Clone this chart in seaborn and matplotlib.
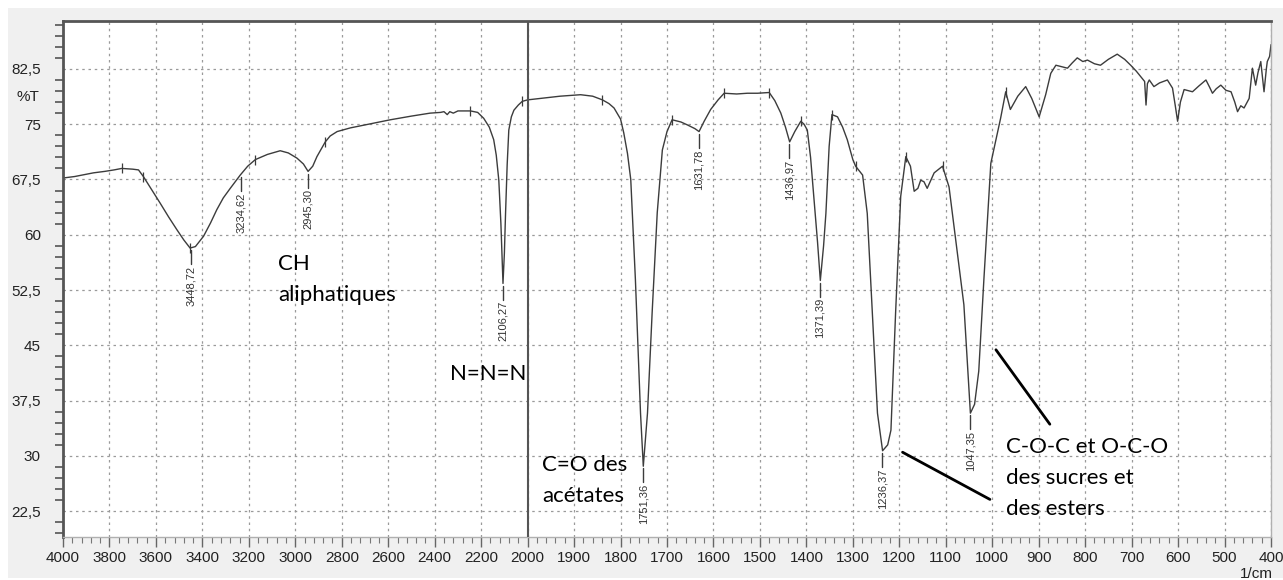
import numpy as np
import pandas as pd
import seaborn as sns
import matplotlib.pyplot as plt
from matplotlib.ticker import FixedLocator, FuncFormatter
from matplotlib.patches import Rectangle

# spectre IR (nombre d'onde en 1/cm, transmittance en %T)
wavenumber = [4000, 3950, 3900, 3869, 3820, 3780, 3747, 3700, 3675, 3654, 3620, 3582, 3545, 3510,
              3480, 3453, 3430, 3395, 3365, 3338, 3310, 3280, 3237, 3205, 3172, 3120, 3065, 3030,
              2993, 2965, 2945, 2925, 2907, 2871, 2850, 2820, 2763, 2700, 2591, 2500, 2420, 2375,
              2360, 2346, 2335, 2320, 2300, 2246, 2215, 2189, 2165, 2146, 2135, 2124, 2115, 2106,
              2100, 2095, 2088, 2081, 2070, 2059, 2040, 2023, 2000, 1972, 1930, 1886, 1860, 1839,
              1825, 1814, 1800, 1793, 1785, 1778, 1768, 1757, 1751, 1742, 1732, 1721, 1710, 1700,
              1689, 1670, 1656, 1640, 1631, 1620, 1606, 1590, 1577, 1550, 1527, 1505, 1480, 1468,
              1455, 1445, 1436, 1425, 1412, 1405, 1398, 1391, 1384, 1376, 1370, 1363, 1358, 1351,
              1345, 1333, 1322, 1312, 1300, 1294, 1279, 1269, 1258, 1247, 1236, 1225, 1218, 1208,
              1197, 1186, 1176, 1168, 1160, 1154, 1147, 1140, 1125, 1107, 1093, 1075, 1061, 1047,
              1038, 1029, 1018, 1003, 989, 982, 971, 961, 945, 928, 915, 899, 885, 874, 863, 850,
              838, 828, 817, 805, 795, 780, 767, 750, 731, 715, 702, 690, 677, 672, 669, 666, 662,
              652, 640, 623, 612, 606, 601, 595, 587, 569, 555, 540, 532, 526, 518, 508, 497, 486,
              478, 472, 465, 458, 447, 440, 433, 428, 422, 415, 410, 408, 403, 400]
transmittance = [67.7, 67.9, 68.2, 68.4, 68.6, 68.8, 69.0, 68.9, 68.8, 67.9, 66.2, 64.3, 62.4, 60.7,
                 59.3, 58.2, 58.4, 59.8, 61.6, 63.4, 65.0, 66.3, 68.1, 69.3, 70.2, 70.9, 71.4, 71.1,
                 70.4, 69.6, 68.6, 69.3, 70.6, 72.6, 73.4, 74.0, 74.5, 74.9, 75.6, 76.1, 76.5, 76.6,
                 76.7, 76.3, 76.7, 76.5, 76.8, 76.8, 76.6, 75.8, 74.6, 72.9, 70.8, 67.4, 61.5, 53.4,
                 57.5, 62.9, 69.5, 74.2, 76.0, 76.9, 77.6, 78.1, 78.3, 78.5, 78.8, 79.0, 78.8, 78.3,
                 77.8, 77.2, 75.7, 73.8, 71.0, 67.5, 53.9, 35.8, 28.6, 35.8, 49.4, 63.0, 71.5, 74.0,
                 75.6, 75.3, 74.9, 74.4, 74.0, 75.4, 77.0, 78.3, 79.2, 79.1, 79.2, 79.2, 79.3, 78.2,
                 76.5, 74.6, 72.6, 74.0, 75.4, 75.0, 74.2, 70.5, 65.2, 59.0, 53.8, 58.5, 62.9, 72.0,
                 76.3, 76.0, 74.6, 72.9, 70.2, 69.3, 68.1, 62.9, 49.4, 35.8, 30.7, 31.5, 33.5, 49.4,
                 65.2, 70.6, 69.3, 65.9, 66.3, 67.4, 67.2, 66.3, 68.4, 69.3, 66.5, 57.5, 50.5, 35.8,
                 37.0, 41.5, 53.9, 69.7, 73.8, 75.8, 79.4, 77.0, 78.8, 80.1, 78.5, 76.0, 79.0, 81.9,
                 83.0, 82.8, 82.6, 83.3, 84.0, 83.5, 83.7, 83.2, 83.0, 83.8, 84.5, 83.8, 83.0, 82.2,
                 81.2, 80.8, 77.6, 80.5, 81.0, 80.1, 80.6, 81.0, 79.9, 77.5, 75.4, 78.0, 79.7, 79.4,
                 80.2, 81.0, 80.0, 79.2, 79.8, 80.3, 79.6, 79.4, 78.0, 76.7, 77.5, 77.2, 78.5, 82.6,
                 80.3, 82.0, 83.5, 79.4, 82.5, 83.5, 84.2, 85.8]

# pics annotés
peak_wn = [3448.72, 3234.62, 2945.30, 2106.27, 1751.36, 1631.78, 1436.97, 1371.39, 1236.37, 1047.35]
peak_T = [58.2, 68.1, 68.6, 53.4, 28.6, 74.0, 72.6, 53.8, 30.7, 35.8]

# petits repères sur la courbe
pick_wn = [3747, 3654, 3453, 3172, 2871, 2246, 2023, 1839, 1689, 1577, 1480, 1412, 1345, 1294, 1186, 1107, 971]

x_major = list(range(4000, 1999, -200)) + list(range(1900, 399, -100))
x_minor = list(range(4000, 1999, -40)) + list(range(2000, 399, -20))
y_major = [22.5, 30, 37.5, 45, 52.5, 60, 67.5, 75, 82.5]
y_minor = list(np.arange(19.5, 89.0, 1.5))

# textes d'attribution
labels_txt = ["CH\naliphatiques", "N=N=N", "C=O des\nacétates", "C-O-C et O-C-O\ndes sucres et\ndes esters"]
labels_wn = [3073, 2332, 1968, 971]
labels_T = [57.4, 42.5, 30.1, 32.6]
callout_lines = [([992, 876], [44.4, 34.3]), ([1193, 1005], [30.5, 24.1])]

df = pd.DataFrame({"wn": wavenumber, "T": transmittance})


def fwd(x):
    x = np.asarray(x, dtype=float)
    return np.where(x > 2000, 2000 + (x - 2000) / 2, x)


def inv(t):
    t = np.asarray(t, dtype=float)
    return np.where(t > 2000, 2000 + (t - 2000) * 2, t)


def virgule(v, pos):
    return f"{v:g}".replace(".", ",")


sns.set_theme(style="white")
plt.rcParams["font.family"] = ["Liberation Sans", "DejaVu Sans"]

fig = plt.figure(figsize=(12.83, 5.8), dpi=100, facecolor="white")
fig.patches.append(Rectangle((8 / 1283, 2 / 580), 1, 570 / 580, transform=fig.transFigure,
                             facecolor="#f0f0f0", edgecolor="none", zorder=-5))
ax = fig.add_axes([63 / 1283, 43 / 580, 1208 / 1283, 516 / 580])
ax.set_facecolor("white")

sns.lineplot(data=df, x="wn", y="T", sort=False, estimator=None, color="#3c3c3c", lw=1.0, ax=ax)

ax.set_xscale("function", functions=(fwd, inv))
ax.set_xlim(4000, 400)
ax.set_ylim(19.0, 89.0)

ax.xaxis.set_major_locator(FixedLocator(x_major))
ax.xaxis.set_minor_locator(FixedLocator(x_minor))
ax.xaxis.set_major_formatter(FuncFormatter(virgule))
ax.yaxis.set_major_locator(FixedLocator(y_major))
ax.yaxis.set_minor_locator(FixedLocator(y_minor))
ax.yaxis.set_major_formatter(FuncFormatter(virgule))

ax.grid(True, which="major", color="#9a9a9a", linestyle=(0, (2, 3)), lw=0.9)
ax.axvline(2000, color="#555555", lw=1.5, zorder=3)

ax.tick_params(axis="y", which="major", direction="out", length=13, width=1.5, color="#555555",
               labelsize=11, pad=3, labelcolor="#222222")
ax.tick_params(axis="y", which="minor", direction="out", length=6, width=1.2, color="#555555", left=True)
ax.tick_params(axis="x", which="major", direction="out", length=7, width=1.0, color="#666666",
               labelsize=11, pad=3, labelcolor="#222222", bottom=True)
ax.tick_params(axis="x", which="minor", direction="out", length=4, width=0.8, color="#777777", bottom=True)

for side in ["top", "left"]:
    ax.spines[side].set_color("#555555")
    ax.spines[side].set_linewidth(2)
for side in ["bottom", "right"]:
    ax.spines[side].set_color("#b0b0b0")
    ax.spines[side].set_linewidth(1)
ax.set_xlabel("")
ax.set_ylabel("")

# repères de pics
pick_T = np.interp(pick_wn, wavenumber[::-1], transmittance[::-1])
ax.scatter(pick_wn, pick_T, marker="|", s=60, color="#3c3c3c", linewidths=0.9, zorder=4)

for wn, t in zip(peak_wn, peak_T):
    ax.plot([wn, wn], [t - 0.3, t - 2.2], color="#3c3c3c", lw=1.0)
    ax.text(wn, t - 2.4, f"{wn:.2f}".replace(".", ","), rotation=90, ha="center", va="top",
            fontsize=8, color="#333333")

for txt, wn, t in zip(labels_txt, labels_wn, labels_T):
    ax.text(wn, t, txt, ha="left", va="top", fontsize=16, color="black",
            family=["Lato", "DejaVu Sans"], linespacing=1.7)

for xs, ys in callout_lines:
    ax.plot(xs, ys, color="black", lw=2)

fig.text(28 / 1283, 1 - 97 / 580, "%T", ha="center", va="center", fontsize=11, color="#222222")
fig.text(1256 / 1283, 1 - 574 / 580, "1/cm", ha="center", va="center", fontsize=11, color="#222222")

fig.savefig("out.png", dpi=100, facecolor=fig.get_facecolor())
